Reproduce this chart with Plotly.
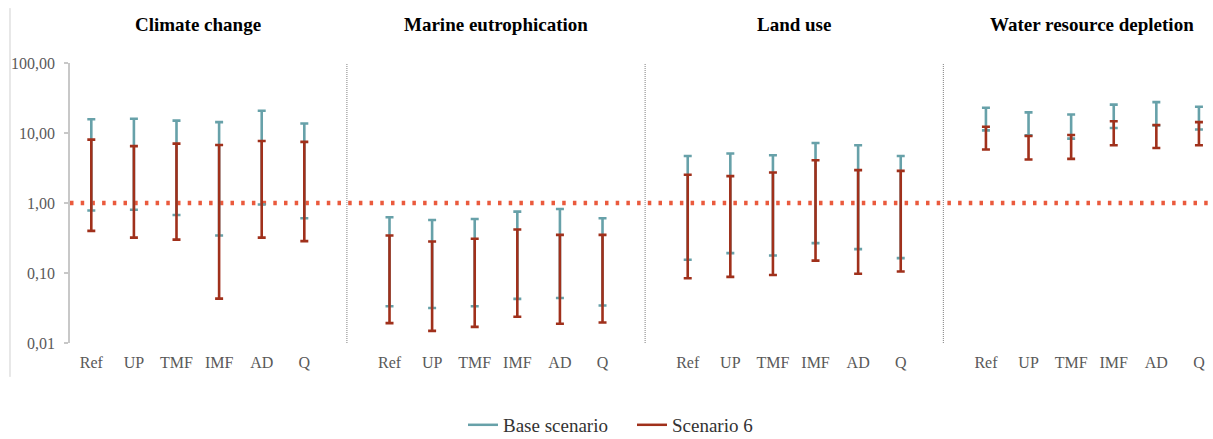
import numpy as np
import plotly.graph_objects as go

panels = ["Climate change", "Marine eutrophication", "Land use", "Water resource depletion"]
categories = ["Ref", "UP", "TMF", "IMF", "AD", "Q"]

base_high = [15.7, 16.0, 15.0, 14.3, 20.8, 13.7,
             0.625, 0.573, 0.592, 0.753, 0.82, 0.605,
             4.7, 5.1, 4.82, 7.2, 6.68, 4.7,
             23.0, 19.7, 18.4, 25.4, 27.6, 23.7]
base_low = [0.78, 0.80, 0.675, 0.343, 0.95, 0.605,
            0.0335, 0.0317, 0.0335, 0.0427, 0.044, 0.0343,
            0.155, 0.192, 0.178, 0.267, 0.219, 0.163,
            10.9, 9.27, 8.3, 11.8, 12.8, 11.2]
s6_high = [8.05, 6.5, 7.06, 6.75, 7.7, 7.46,
           0.343, 0.282, 0.308, 0.418, 0.35, 0.35,
           2.53, 2.42, 2.73, 4.09, 2.95, 2.88,
           12.3, 9.08, 9.37, 14.7, 13.0, 14.3]
s6_low = [0.40, 0.32, 0.30, 0.043, 0.32, 0.285,
          0.0192, 0.0149, 0.017, 0.0237, 0.0188, 0.0196,
          0.084, 0.088, 0.0935, 0.15, 0.0977, 0.105,
          5.8, 4.18, 4.27, 6.68, 6.12, 6.68]

series_names = ["Base scenario", "Scenario 6"]
colors = ["#67A1A9", "#A0301B"]
dot_color = "#EA5A3D"
FONT = "Liberation Serif"

ncat = len(categories)
slot = ncat + 1  # one blank slot between panels
xpos = [p * slot + i for p in range(len(panels)) for i in range(ncat)]

fig = go.Figure()

for name, lo, hi, col in [(series_names[0], base_low, base_high, colors[0]),
                          (series_names[1], s6_low, s6_high, colors[1])]:
    lo = np.array(lo)
    hi = np.array(hi)
    mid = np.sqrt(lo * hi)
    fig.add_trace(go.Scatter(
        x=xpos, y=mid, mode="markers",
        marker=dict(size=1, opacity=0),
        error_y=dict(type="data", symmetric=False, array=hi - mid, arrayminus=mid - lo,
                     color=col, thickness=2.6, width=4),
        showlegend=False, hoverinfo="skip"))
    fig.add_trace(go.Scatter(x=[None], y=[None], mode="lines", name=name,
                             line=dict(color=col, width=2.5)))

xmax = 26.33
# reference line at 1
fig.add_shape(type="line", xref="x", yref="y", x0=-0.5, x1=xmax, y0=1, y1=1,
              line=dict(color=dot_color, width=4.5, dash="3.5px,7.2px"), layer="below")
# separators
for p in range(1, len(panels)):
    xs = p * slot - 1
    fig.add_shape(type="line", xref="x", yref="paper", x0=xs, x1=xs, y0=0, y1=1,
                  line=dict(color="#7F7F7F", width=1, dash="1px,1px"))
# left border line
fig.add_shape(type="line", xref="paper", yref="paper", x0=-0.0525, x1=-0.0525, y0=-0.121, y1=1.196,
              line=dict(color="#D0D0D0", width=1))

for p, title in enumerate(panels):
    fig.add_annotation(x=p * slot + (ncat - 1) / 2, y=1.136, xref="x", yref="paper",
                       text="<b>" + title + "</b>", showarrow=False, yanchor="middle",
                       font=dict(family=FONT, size=19, color="#000000"))

fig.update_layout(
    template="none",
    width=1213, height=439,
    margin=dict(l=70, r=0, t=63, b=96, autoexpand=False),
    plot_bgcolor="white", paper_bgcolor="white",
    font=dict(family=FONT, color="#595959"),
    showlegend=True,
    legend=dict(orientation="h", x=0.521, xanchor="center", xref="container",
                y=0.032, yanchor="middle", yref="container",
                bgcolor="rgba(0,0,0,0)", entrywidth=124, itemwidth=30,
                font=dict(family=FONT, size=19, color="#333333")),
    xaxis=dict(range=[-0.5, xmax], tickvals=xpos, ticktext=categories * len(panels),
               showgrid=False, zeroline=False, showline=False, ticks="",
               ticklabelstandoff=8, automargin=False,
               tickfont=dict(family=FONT, size=16, color="#595959")),
    yaxis=dict(type="log", range=[-2, 2], tickvals=[0.01, 0.1, 1, 10, 100],
               ticktext=["0,01", "0,10", "1,00", "10,00", "100,00"],
               showgrid=False, zeroline=False, showline=True, linecolor="#C8C8C8", linewidth=1.5,
               ticks="outside", ticklen=4, tickcolor="#C8C8C8", tickwidth=1.5,
               ticklabelstandoff=6, automargin=False,
               tickfont=dict(family=FONT, size=16, color="#595959")),
)

fig.write_html("out.html", config={"displayModeBar": False},
               post_script="document.body.style.margin='0';document.body.style.overflow='hidden';")
